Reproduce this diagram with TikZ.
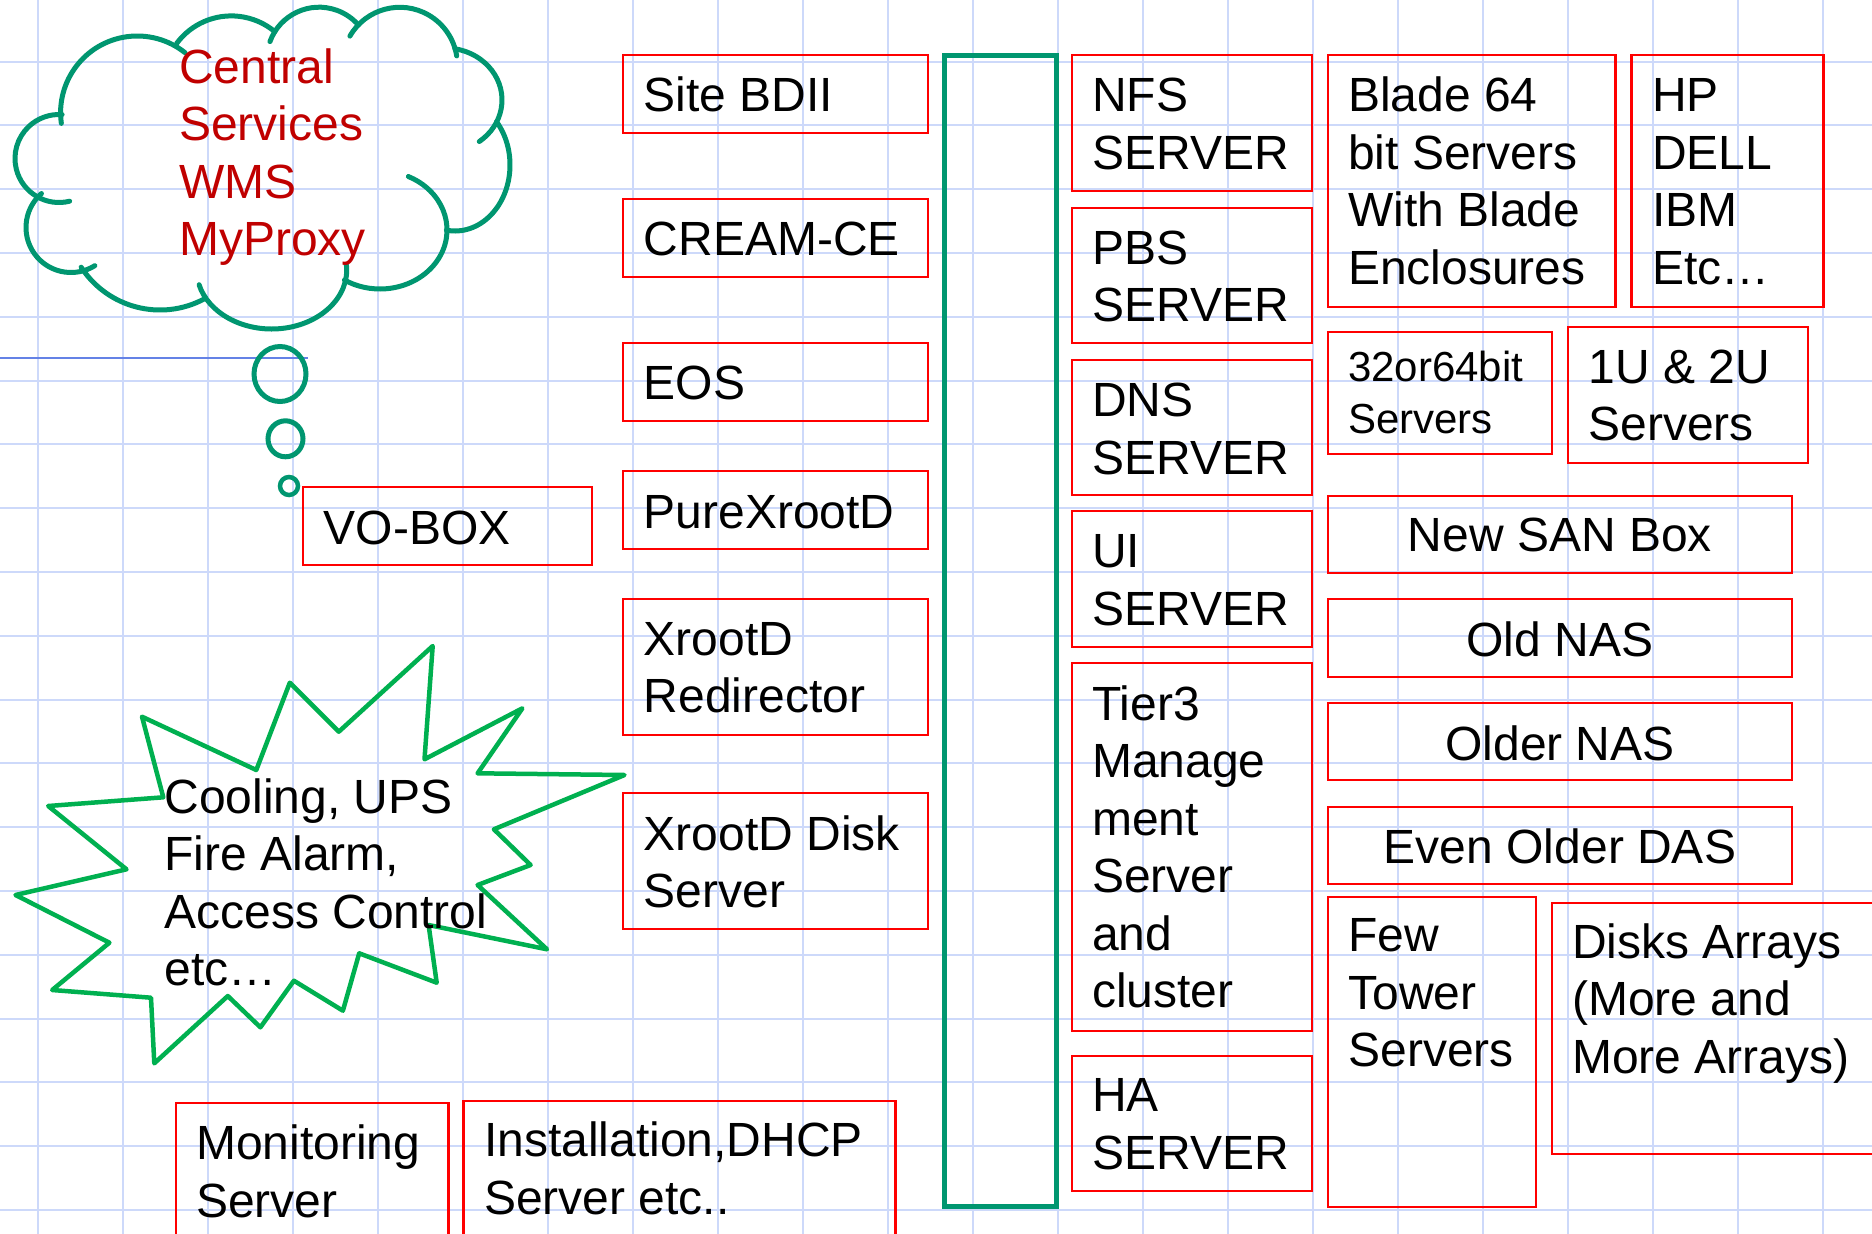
\documentclass[tikz,border=0pt]{standalone}
\usepackage{fontspec}
\setmainfont{Liberation Sans}
\definecolor{gridblue}{RGB}{205,217,250}
\definecolor{boxred}{RGB}{255,0,0}
\definecolor{busteal}{RGB}{0,150,112}
\definecolor{stargreen}{RGB}{0,176,80}
\definecolor{cloudred}{RGB}{192,0,0}
\definecolor{rulerblue}{RGB}{100,130,230}
% strut that fixes the height of the first text line
\newcommand\st{\rule{0pt}{40pt}}
% framed server box with top-left aligned text:
% name, left x, top y, width, height, first baseline offset, text
\newcommand\srvbox[7]{%
  \node[frame, minimum width=#4pt, minimum height=#5pt] (#1) at ({#2+#4/2},{#3+#5/2}) {};
  \node[lbl] (#1-txt) at ([xshift=20.5pt,yshift=-#6pt]#1.north west) {\st #7};}
% same, with the text centred
\newcommand\srvboxc[7]{%
  \node[frame, minimum width=#4pt, minimum height=#5pt] (#1) at ({#2+#4/2},{#3+#5/2}) {};
  \node[lblc] (#1-txt) at ([yshift=-#6pt]#1.north) {\st #7};}
% one puff of the cloud: centre x, centre y, x radius, y radius, start, end
\newcommand\puff[6]{%
  \draw[tealline] ({#1+#3*cos(#5)},{#2+#4*sin(#5)})
    arc[start angle=#5, end angle=#6, x radius=#3, y radius=#4];}
\begin{document}
\begin{tikzpicture}[x=1pt,y=-1pt,
  gridline/.style={draw=gridblue, line width=2pt},
  frame/.style={draw=boxred, line width=2.2pt, rectangle, inner sep=0pt, outer sep=0pt},
  lbl/.style={anchor=north west, inner sep=0pt, outer sep=0pt, yshift=40pt,
    align=left, font=\fontsize{48}{57.5}\selectfont},
  lblc/.style={lbl, anchor=north, align=center},
  tealline/.style={draw=busteal, line width=5pt, line cap=round},
  starline/.style={draw=stargreen, line width=4.5pt, line join=round}]
\useasboundingbox (0,0) rectangle (1872,1234);
\clip (0,0) rectangle (1872,1234);
\fill[white] (0,0) rectangle (1872,1234);

% background grid
\foreach \k in {0,...,21} \draw[gridline] ({37.5+85*\k},0) -- ({37.5+85*\k},1234);
\foreach \k in {0,...,18} \draw[gridline] (0,{61.5+63.8*\k}) -- (1872,{61.5+63.8*\k});
\draw[rulerblue, line width=2pt] (0,357.7) -- (307.6,357.7);

% thought cloud
\puff{59}{158.5}{44}{44}{76}{274}
\puff{137.3}{112.7}{76.7}{76.7}{172}{308.5}
\puff{231.3}{83.9}{68}{68}{216.6}{309.9}
\puff{319.1}{59.5}{52.3}{52.3}{200}{318.6}
\puff{399.8}{64.9}{57.6}{57.6}{210}{351}
\puff{445}{100}{57}{52}{-80}{53}
\puff{455}{165}{55}{66}{-41}{99}
\puff{380}{230}{67}{59}{-65}{122}
\puff{271.7}{270}{75}{59}{-5}{165.5}
\puff{160}{216}{94}{94}{62}{147}
\puff{71}{227.5}{45}{45}{229}{58}
\draw[tealline] (280,374) ellipse [x radius=26, y radius=27.5];
\draw[tealline] (285.5,438.8) ellipse [x radius=17.5, y radius=18];
\draw[tealline, line width=4.5pt] (289,486) ellipse [x radius=9, y radius=9];
\node[lbl, text=cloudred] (central) at (179.2,83.3) {\st Central\\Services\\WMS\\MyProxy};

% explosion with the facility services
\draw[starline] (432.7,646) -- (424.5,759.3) -- (522.4,708.3) -- (477.6,773.3)
  -- (624.5,775) -- (493.9,829.3) -- (530.6,865) -- (477.6,885) -- (547,949.3)
  -- (428.6,925) -- (436.7,982.7) -- (359.2,953.3) -- (342.9,1010.7)
  -- (293.9,980.7) -- (260.4,1027.3) -- (227.8,996) -- (154.3,1063.3)
  -- (151,997.7) -- (52.2,990) -- (109.4,942.7) -- (15.5,895) -- (126.5,869.3)
  -- (48.2,806) -- (163.3,797.3) -- (142,716.7) -- (256.3,770) -- (289.8,682.7)
  -- (338.8,731.7) -- cycle;
\node[lbl] (facility) at (164.5,813.3) {\st Cooling, UPS\\Fire Alarm,\\Access Control\\etc…};

% network bus
\node[draw=busteal, line width=5pt, rectangle, inner sep=0pt, minimum width=112pt,
  minimum height=1150.5pt] (bus) at (1000,630.75) {};

% grid services
\srvbox{bdii}{623.3}{55}{305}{78}{56.7}{Site BDII}
\srvbox{cream}{623.3}{199}{305}{78}{56}{CREAM-CE}
\srvbox{eos}{623.3}{343}{305}{78}{56.5}{EOS}
\srvbox{purex}{623.3}{471}{305}{78}{57}{PureXrootD}
\srvbox{redir}{623.3}{599.3}{305}{135.7}{55.8}{XrootD\\Redirector}
\srvbox{disk}{623.3}{793.3}{305}{136}{56.7}{XrootD Disk\\Server}
\srvbox{vobox}{303.3}{487.3}{288.7}{77.7}{56.7}{VO-BOX}
\srvbox{mon}{175.7}{1102.7}{272.7}{200}{57}{Monitoring\\Server}
\srvbox{inst}{463.5}{1100.7}{432}{200}{56}{Installation,DHCP\\Server etc..}

% site servers
\srvbox{nfs}{1071.7}{55}{240.6}{135.7}{56.7}{NFS\\SERVER}
\srvbox{pbs}{1071.7}{207.7}{240.6}{135}{56.7}{PBS\\SERVER}
\srvbox{dns}{1071.7}{360}{240.6}{135}{56.7}{DNS\\SERVER}
\srvbox{ui}{1071.7}{511}{240.6}{135.7}{56.7}{UI\\SERVER}
\srvbox{tier}{1071.7}{663.3}{240.6}{367.7}{56.7}{Tier3\\Manage\\ment\\Server\\and\\cluster}
\srvbox{ha}{1071.7}{1055.7}{240.6}{135}{56}{HA\\SERVER}

% hardware
\srvbox{blade}{1327.7}{55}{287.8}{251.7}{56.7}{Blade 64\\bit Servers\\With Blade\\Enclosures}
\srvbox{hp}{1631.5}{55}{192}{251.7}{56.7}{HP\\DELL\\IBM\\Etc…}
\node[frame, minimum width=224pt, minimum height=122.3pt] (bits) at (1440,392.85) {};
\node[lbl, font=\fontsize{42}{51.6}\selectfont] (bits-txt)
  at ([xshift=20pt,yshift=-50pt]bits.north west) {\st 32or64bit\\Servers};
\srvbox{rack}{1568}{327}{240}{136}{56.3}{1U \& 2U\\Servers}
\srvboxc{san}{1328}{495.7}{464}{77.6}{56}{New SAN Box}
\srvboxc{oldnas}{1328}{599.3}{464}{77.4}{56.7}{Old NAS}
\srvboxc{oldernas}{1328}{703.3}{464}{76.7}{56.7}{Older NAS}
\srvboxc{das}{1328}{806.7}{464}{77.3}{56.6}{Even Older DAS}
\srvbox{tower}{1328}{897.3}{208}{309.4}{54.4}{Few\\Tower\\Servers}
\srvbox{arrays}{1551.7}{903.3}{400}{251}{55}{Disks Arrays\\(More and\\More Arrays)}
\end{tikzpicture}
\end{document}
